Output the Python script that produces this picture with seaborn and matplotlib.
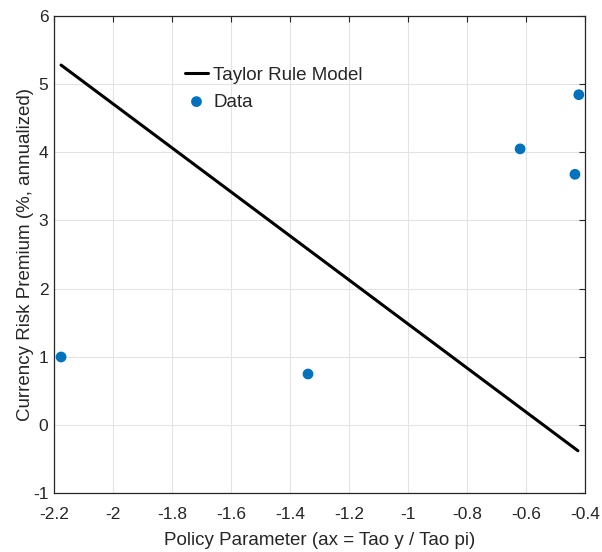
import matplotlib
matplotlib.use("Agg")
import matplotlib.pyplot as plt
import seaborn as sns
import pandas as pd

# Data
model_x = [-2.176, -0.424]
model_y = [5.28, -0.38]
data_x = [-2.176, -1.339, -0.620, -0.434, -0.421]
data_y = [0.996, 0.746, 4.05, 3.677, 4.845]
x_ticks = [-2.2, -2.0, -1.8, -1.6, -1.4, -1.2, -1.0, -0.8, -0.6, -0.4]
x_tick_labels = ["-2.2", "-2", "-1.8", "-1.6", "-1.4", "-1.2", "-1", "-0.8", "-0.6", "-0.4"]
y_ticks = [-1, 0, 1, 2, 3, 4, 5, 6]
y_tick_labels = ["-1", "0", "1", "2", "3", "4", "5", "6"]

sns.set_style("white")
plt.rcParams['font.family'] = ['Liberation Sans', 'DejaVu Sans']
plt.rcParams['axes.unicode_minus'] = False

fig = plt.figure(figsize=(6.02, 5.52), dpi=100)
ax = fig.add_axes([54/602, 1 - 493/552, (585-54)/602, (493-16)/552])

df_model = pd.DataFrame({"x": model_x, "y": model_y})
df_data = pd.DataFrame({"x": data_x, "y": data_y})

sns.lineplot(data=df_model, x="x", y="y", ax=ax, color="black", linewidth=2.2,
             label="Taylor Rule Model", zorder=3)
sns.scatterplot(data=df_data, x="x", y="y", ax=ax, color="#0072BD", s=60,
                edgecolor="none", label="Data", zorder=4, clip_on=False)

ax.set_xlim(-2.2, -0.4)
ax.set_ylim(-1, 6)
ax.set_xticks(x_ticks)
ax.set_xticklabels(x_tick_labels)
ax.set_yticks(y_ticks)
ax.set_yticklabels(y_tick_labels)
ax.grid(True, color="#e3e3e3", linewidth=0.8)
ax.set_axisbelow(True)
for s in ax.spines.values():
    s.set_visible(True)
    s.set_color("#262626")
    s.set_linewidth(0.9)
ax.tick_params(direction="in", length=4, width=0.8, color="#262626",
               top=True, right=True, labelsize=12.5, labelcolor="#262626")
ax.tick_params(axis="x", pad=10)
ax.tick_params(axis="y", pad=4)
ax.set_xlabel("Policy Parameter (ax = Tao y / Tao pi)", fontsize=13.5, color="#262626", labelpad=7)
ax.set_ylabel("Currency Risk Premium (%, annualized)", fontsize=13.5, color="#262626", labelpad=-1)

leg = ax.legend(loc="upper left", bbox_to_anchor=(0.233, 0.909), frameon=False,
                fontsize=13.5, handlelength=1.2, handletextpad=0.3, labelspacing=0.5,
                borderaxespad=0)

fig.savefig("out.png", dpi=100)
